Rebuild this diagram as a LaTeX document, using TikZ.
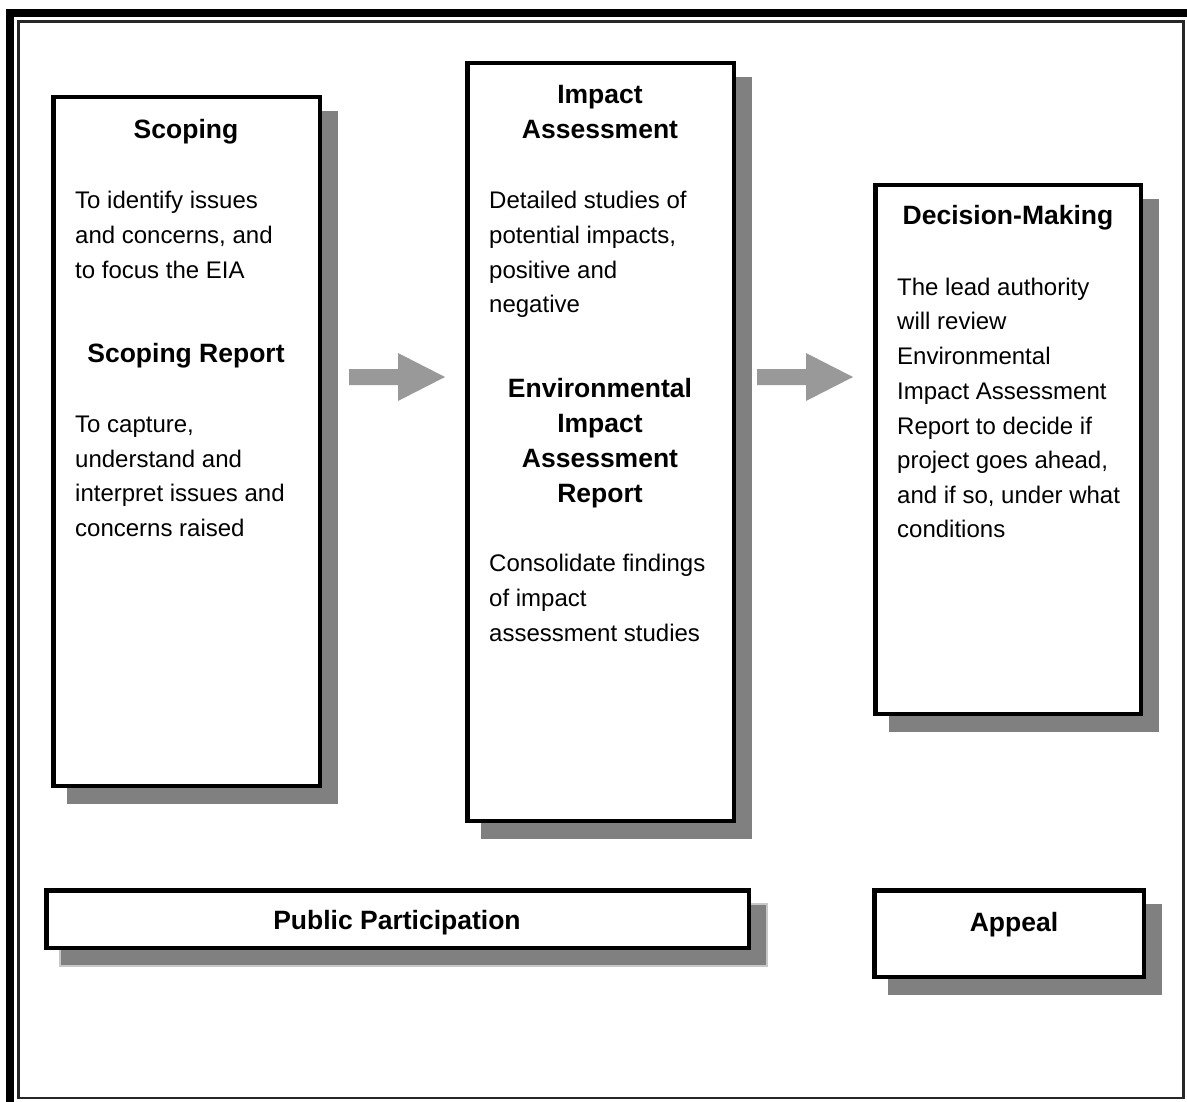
\documentclass[tikz,border=0pt]{standalone}
\usepackage{fontspec}
\setmainfont{Liberation Sans}
\definecolor{shadowgray}{HTML}{808080}
\definecolor{arrowgray}{HTML}{999999}
\definecolor{shadowedge}{HTML}{C8C8C8}
\begin{document}
\begin{tikzpicture}[x=1pt,y=-1pt,
  boxframe/.style={draw=black,line width=4.5pt,fill=white},
  shadowbox/.style={fill=shadowgray},
  title/.style={font=\fontsize{26.5}{35}\selectfont\bfseries,inner sep=0pt,align=center,anchor=mid,yshift=-7pt},
  body/.style={font=\fontsize{24}{35}\selectfont,inner sep=0pt,anchor=mid west,yshift=-6.5pt},
  blockarrow/.style={fill=arrowgray}
]
\useasboundingbox (0,0) rectangle (1187,1102);
% outer frame
\fill[black] (6,9) rectangle (1187,17);
\fill[black] (6,9) rectangle (14,1102);
\draw[line width=2.6pt,draw=black!85] (18.6,21.3) rectangle (1183.5,1098);

% shadows
\fill[shadowbox] (67,111) rectangle (338,804);
\fill[shadowbox] (481,77) rectangle (752,839);
\fill[shadowbox] (889,199) rectangle (1159,732);
\fill[shadowbox,draw=shadowedge,line width=1.2pt] (60,904) rectangle (767,966);
\fill[shadowbox] (888,904) rectangle (1162,995);

% boxes (outer edges minus half line width)
\node[boxframe,inner sep=0pt,minimum width=266.5pt,minimum height=688.5pt] (scoping) at (186.5,441.5) {};
\node[boxframe,inner sep=0pt,minimum width=266.5pt,minimum height=757.5pt] (impact) at (600.5,442) {};
\node[boxframe,inner sep=0pt,minimum width=265.5pt,minimum height=528.5pt] (decision) at (1008,449.5) {};
\node[boxframe,inner sep=0pt,minimum width=702.5pt,minimum height=57.5pt] (public) at (397.5,919) {};
\node[boxframe,inner sep=0pt,minimum width=269.5pt,minimum height=86.5pt] (appeal) at (1009,933.5) {};

% block arrows
\coordinate (a1) at (349,377);
\fill[blockarrow] (a1) ++(0,-8) -- ++(49,0) -- ++(0,-16) -- ++(47,24) -- ++(-47,24) -- ++(0,-16) -- ++(-49,0) -- cycle;
\coordinate (a2) at (757,377);
\fill[blockarrow] (a2) ++(0,-8) -- ++(49,0) -- ++(0,-16) -- ++(47,24) -- ++(-47,24) -- ++(0,-16) -- ++(-49,0) -- cycle;

% Scoping texts
\node[title] (t1) at (186,129) {Scoping};
\node[body] (s1) at (75,199) {To identify issues};
\node[body] (s2) at (75,234) {and concerns, and};
\node[body] (s3) at (75,269) {to focus the EIA};
\node[title] (t2) at (186,353) {Scoping Report};
\node[body] (s4) at (75,423) {To capture,};
\node[body] (s5) at (75,458) {understand and};
\node[body] (s6) at (75,492) {interpret issues and};
\node[body] (s7) at (75,527) {concerns raised};

% Impact texts
\node[title] (t3) at (600,94) {Impact};
\node[title] (t4) at (600,129) {Assessment};
\node[body] (i1) at (489,199) {Detailed studies of};
\node[body] (i2) at (489,234) {potential impacts,};
\node[body] (i3) at (489,269) {positive and};
\node[body] (i4) at (489,303) {negative};
\node[title] (t5) at (600,388) {Environmental};
\node[title] (t6) at (600,423) {Impact};
\node[title] (t7) at (600,458) {Assessment};
\node[title] (t8) at (600,493) {Report};
\node[body] (i5) at (489,562) {Consolidate findings};
\node[body] (i6) at (489,597) {of impact};
\node[body] (i7) at (489,632) {assessment studies};

% Decision texts
\node[title] (t9) at (1008,215) {Decision-Making};
\node[body] (d1) at (897,286) {The lead authority};
\node[body] (d2) at (897,320) {will review};
\node[body] (d3) at (897,355) {Environmental};
\node[body] (d4) at (897,390) {Impact Assessment};
\node[body] (d5) at (897,425) {Report to decide if};
\node[body] (d6) at (897,459) {project goes ahead,};
\node[body] (d7) at (897,494) {and if so, under what};
\node[body] (d8) at (897,528) {conditions};

% bottom labels
\node[title] (t10) at (397,920) {Public Participation};
\node[title] (t11) at (1014,922) {Appeal};
\end{tikzpicture}
\end{document}
